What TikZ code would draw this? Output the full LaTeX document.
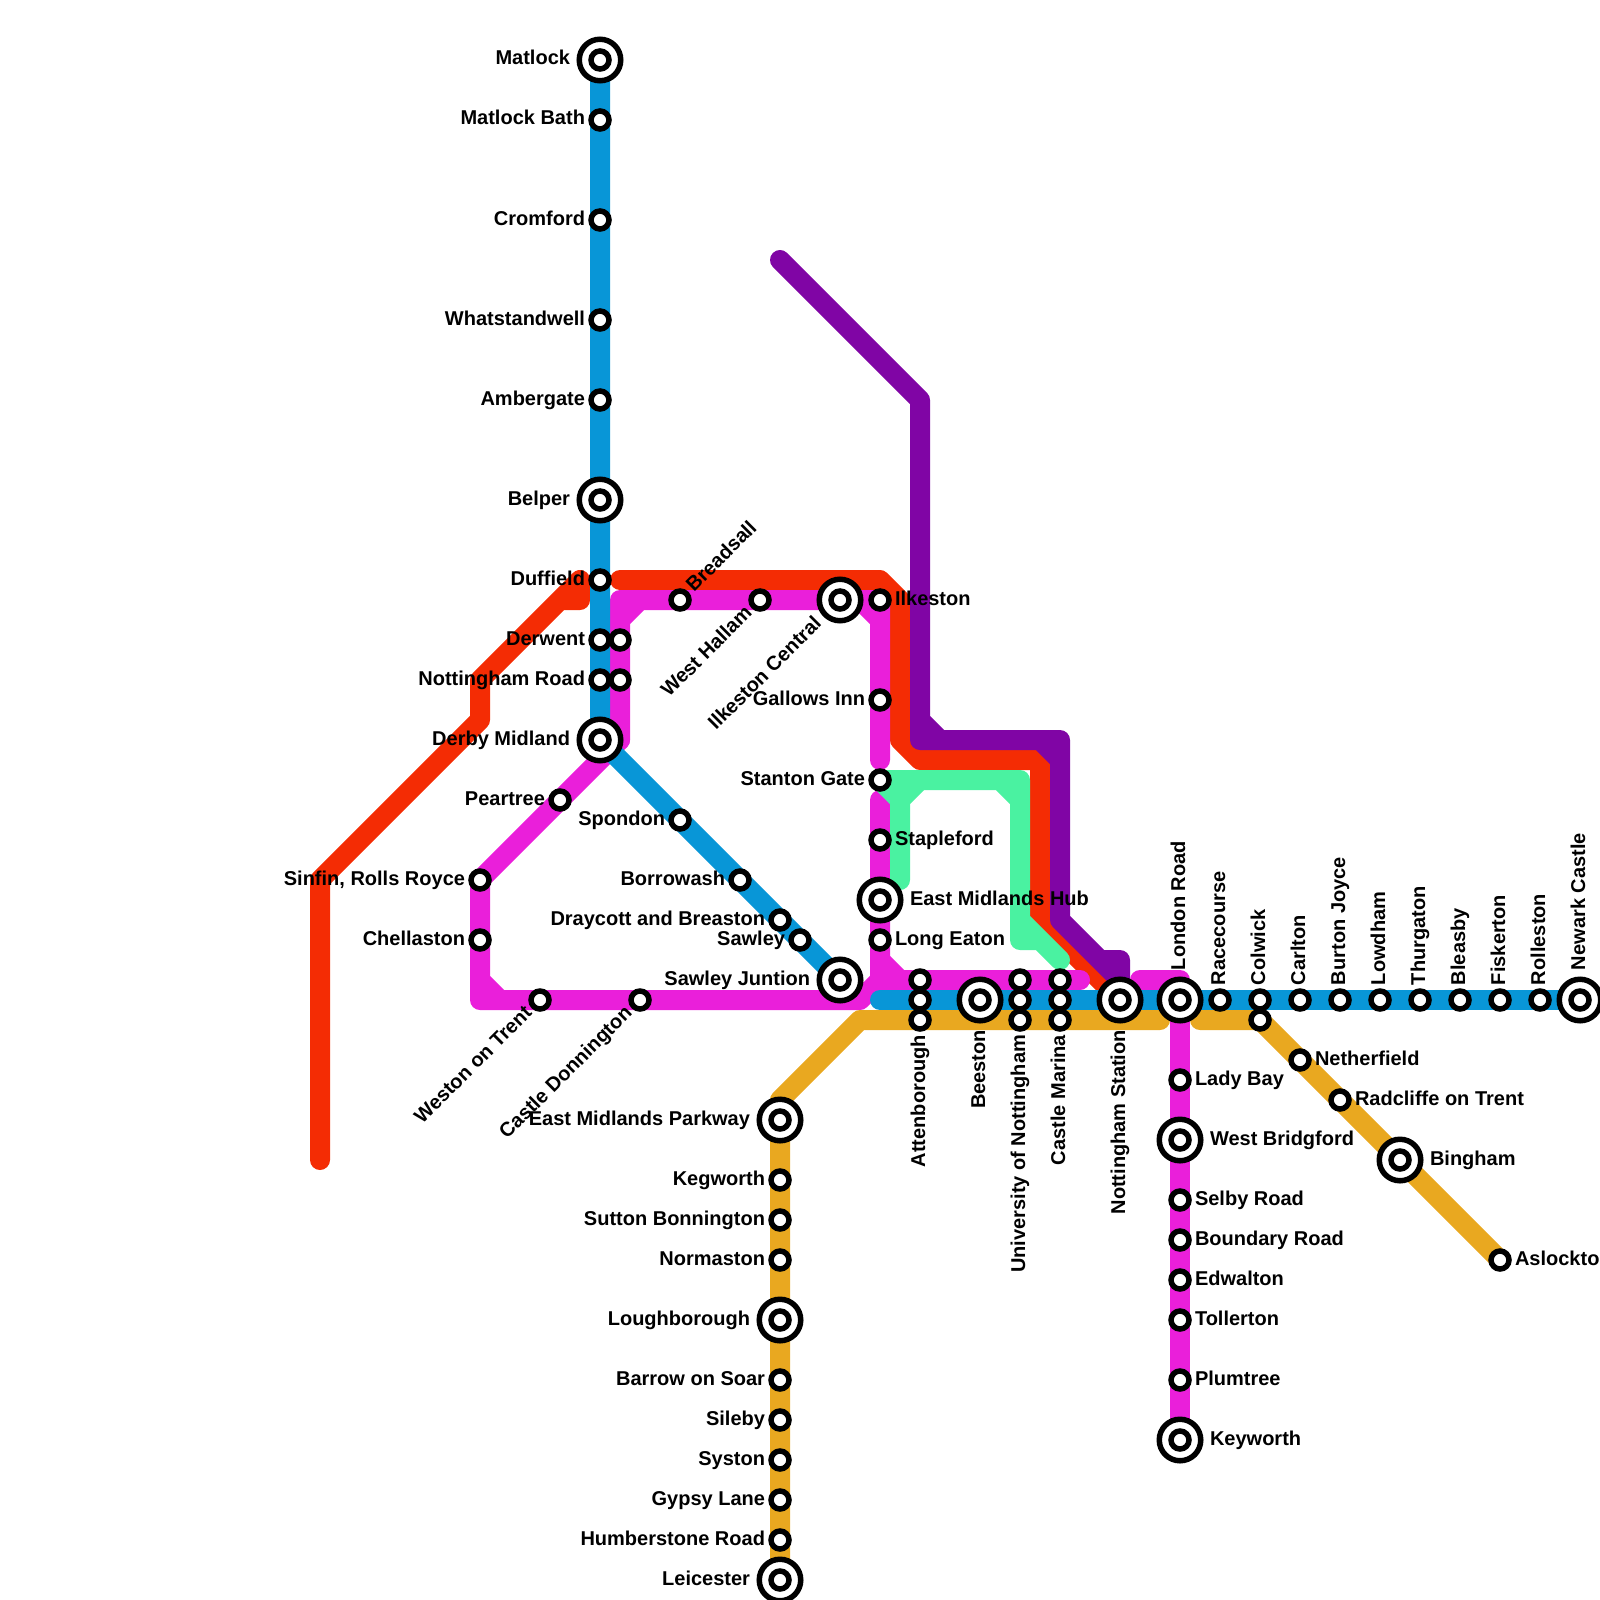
\documentclass[tikz,border=0pt]{standalone}
\usepackage{fontspec}
\setmainfont{Liberation Sans}
\definecolor{metroblue}{HTML}{0896D7}
\definecolor{metrored}{HTML}{F42C04}
\definecolor{metromagenta}{HTML}{EA1FDA}
\definecolor{metropurple}{HTML}{8005A5}
\definecolor{metrogreen}{HTML}{4AF2A1}
\definecolor{metrogold}{HTML}{E9A820}
\def\lblgap{7.5pt}
\tikzset{
  metroline/.style={line width=10pt, line cap=round, line join=round},
  redline/.style={metroline, draw=metrored},
  magentaline/.style={metroline, draw=metromagenta},
  goldline/.style={metroline, draw=metrogold},
  purpleline/.style={metroline, draw=metropurple},
  greenline/.style={metroline, draw=metrogreen},
  blueline/.style={metroline, draw=metroblue},
  stop/.style={circle, draw=black, fill=white, line width=2.75pt, minimum size=9pt, inner sep=0pt, outer sep=0pt},
  bigstop/.style={circle, draw=black, fill=white, line width=2.75pt, minimum size=20.75pt, inner sep=0pt, outer sep=0pt},
  stoplabel/.style={font=\bfseries, inner sep=0pt, outer sep=0pt},
  lblleft/.style={stoplabel, anchor=base east, xshift=-\lblgap, yshift=-2.5pt},
  lblright/.style={stoplabel, anchor=base west, xshift=\lblgap, yshift=-2.5pt},
  lblup/.style={stoplabel, rotate=90, anchor=base west, xshift=\lblgap, yshift=-2.5pt},
  lbldown/.style={stoplabel, rotate=90, anchor=base east, xshift=-\lblgap, yshift=-2.5pt},
  lbldiagup/.style={stoplabel, rotate=45, anchor=base west, xshift=\lblgap, yshift=-2.5pt},
  lbldiagdown/.style={stoplabel, rotate=45, anchor=base east, xshift=-\lblgap, yshift=-2.5pt}
}
\begin{document}
\begin{tikzpicture}[x=10pt, y=-10pt]
  \useasboundingbox (0,0) rectangle (80,80);
  \clip (0,0) rectangle (80,80);
  % lines
  \draw[redline] (16,58)--(16,44)--(24,36)--(24,34)--(29,29)--(29,30)--(28,30);
  \draw[redline] (31,29)--(44,29)--(45,30)--(45,37)--(46,38)--(52,38)--(52,46)--(56,50);
  \draw[magentaline] (31,37)--(31,30)--(44,30)--(44,38) (31,31)--(32,30) (43,30)--(44,31);
  \draw[magentaline] (31,37)--(30,38)--(24,44)--(24,50)--(43,50)--(44,49)--(44,40) (24,49)--(25,50);
  \draw[magentaline] (44,49)--(54,49) (44,48)--(45,49);
  \draw[magentaline] (57,49)--(59,49)--(59,72);
  \draw[goldline] (39,79)--(39,55)--(43,51)--(58,51);
  \draw[goldline] (60,51)--(63,51)--(75,63);
  \draw[purpleline] (39,13)--(46,20)--(46,37)--(53,37)--(53,46)--(55,48)--(56,48)--(56,50) (46,36)--(47,37) (52,37)--(53,38) (55,48)--(56,49);
  \draw[greenline] (45,44)--(45,40)--(46,39) (44,39)--(45,40);
  \draw[greenline] (44,39)--(51,39)--(51,47)--(52,47)--(53,48) (50,39)--(51,40) (51,46)--(52,47);
  \draw[blueline] (30,3)--(30,37)--(42,49);
  \draw[blueline] (44,50)--(79,50);
  % stops without a label
  \foreach \x/\y in {31/32,31/34,46/49,46/50,51/49,51/50,53/49,53/50,63/51}
    \node[stop] (stop\x-\y) at (\x,\y) {};
  % interchange stops
  \foreach \x/\y/\side/\txt in {30/3/lblleft/Matlock, 30/25/lblleft/Belper, 30/37/lblleft/Derby Midland,
    42/49/lblleft/Sawley Juntion, 39/56/lblleft/East Midlands Parkway, 39/66/lblleft/Loughborough,
    39/79/lblleft/Leicester, 44/45/lblright/East Midlands Hub, 59/57/lblright/West Bridgford,
    59/72/lblright/Keyworth, 70/58/lblright/Bingham, 59/50/lblup/London Road, 79/50/lblup/Newark Castle,
    49/50/lbldown/Beeston, 56/50/lbldown/Nottingham Station, 42/30/lbldiagdown/Ilkeston Central} {
    \def\lblgap{15pt}
    \node[bigstop] (ring\x-\y) at (\x,\y) {};
    \node[stop] (stop\x-\y) at (\x,\y) {};
    \node[\side] (name\x-\y) at (\x,\y) {\txt};
  }
  % ordinary stops
  \foreach \x/\y/\side/\txt in {30/6/lblleft/Matlock Bath, 30/11/lblleft/Cromford, 30/16/lblleft/Whatstandwell,
    30/20/lblleft/Ambergate, 30/29/lblleft/Duffield, 30/32/lblleft/Derwent, 30/34/lblleft/Nottingham Road,
    28/40/lblleft/Peartree, 34/41/lblleft/Spondon, 37/44/lblleft/Borrowash, 39/46/lblleft/Draycott and Breaston,
    40/47/lblleft/Sawley, 24/44/lblleft/{Sinfin, Rolls Royce}, 24/47/lblleft/Chellaston, 44/35/lblleft/Gallows Inn,
    44/39/lblleft/Stanton Gate, 39/59/lblleft/Kegworth, 39/61/lblleft/Sutton Bonnington, 39/63/lblleft/Normaston,
    39/69/lblleft/Barrow on Soar, 39/71/lblleft/Sileby, 39/73/lblleft/Syston, 39/75/lblleft/Gypsy Lane,
    39/77/lblleft/Humberstone Road, 44/30/lblright/Ilkeston, 44/42/lblright/Stapleford, 44/47/lblright/Long Eaton,
    59/54/lblright/Lady Bay, 59/60/lblright/Selby Road, 59/62/lblright/Boundary Road, 59/64/lblright/Edwalton,
    59/66/lblright/Tollerton, 59/69/lblright/Plumtree, 65/53/lblright/Netherfield, 67/55/lblright/Radcliffe on Trent,
    75/63/lblright/Aslockton, 61/50/lblup/Racecourse, 63/50/lblup/Colwick, 65/50/lblup/Carlton, 67/50/lblup/Burton Joyce,
    69/50/lblup/Lowdham, 71/50/lblup/Thurgaton, 73/50/lblup/Bleasby, 75/50/lblup/Fiskerton, 77/50/lblup/Rolleston,
    46/51/lbldown/Attenborough, 51/51/lbldown/University of Nottingham, 53/51/lbldown/Castle Marina,
    34/30/lbldiagup/Breadsall, 38/30/lbldiagdown/West Hallam, 27/50/lbldiagdown/Weston on Trent,
    32/50/lbldiagdown/Castle Donnington} {
    \node[stop] (stop\x-\y) at (\x,\y) {};
    \node[\side] (name\x-\y) at (\x,\y) {\txt};
  }
\end{tikzpicture}
\end{document}
